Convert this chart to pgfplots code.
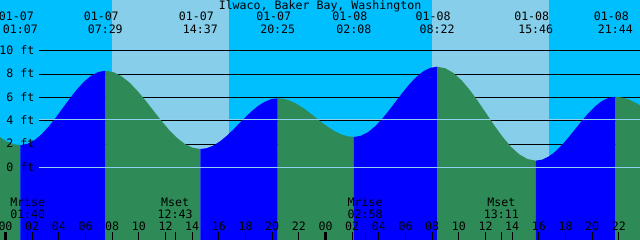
\documentclass[border=0pt]{standalone}
\usepackage{pgfplots}
\pgfplotsset{compat=1.18}
\usepackage{fontspec}
\setmainfont{DejaVu Sans Mono}
\definecolor{night}{HTML}{00BFFF}
\definecolor{day}{HTML}{87CEEB}
\definecolor{rise}{HTML}{0000FF}
\definecolor{fall}{HTML}{2E8B57}
\definecolor{datum}{HTML}{8FD0F0}
\begin{document}
\begin{tikzpicture}[font=\fontsize{11.6bp}{13bp}\selectfont]
\useasboundingbox (0,0) rectangle (640bp,240bp);
\clip (0,0) rectangle (640bp,240bp);
\begin{axis}[at={(0,0)}, anchor=south west, scale only axis, width=640bp, height=240bp,
  xmin=-0.4125, xmax=47.5875, ymin=-6.235, ymax=14.35,
  axis background/.style={fill=night},
  axis line style={draw=none},
  axis on top,
  ytick=\empty,
  xtick={0,2,...,48},
  xticklabels={00,02,04,06,08,10,12,14,16,18,20,22,00,02,04,06,08,10,12,14,16,18,20,22,00},
  xtick pos=left, tick align=inside, major tick length=8.3bp,
  every tick/.style={black, line width=0.8bp},
  extra x ticks={1.667,12.717,26.967,37.183}, extra x tick labels={},
  xticklabel style={anchor=base, yshift=10bp, inner sep=0pt, font=\fontsize{11.6bp}{13bp}\selectfont},
  every node/.append style={inner sep=0pt},
]
% daylight
\addplot[fill=day, draw=none] coordinates {(7.99,-7) (7.99,15) (16.76,15) (16.76,-7)} --cycle;
\addplot[fill=day, draw=none] coordinates {(31.99,-7) (31.99,15) (40.76,15) (40.76,-7)} --cycle;
% depth lines
\addplot[black, line width=0.8bp] coordinates {(2.535,10) (48,10)};
\addplot[black, line width=0.8bp] coordinates {(2.535,8) (48,8)};
\addplot[black, line width=0.8bp] coordinates {(2.535,6) (48,6)};
\addplot[black, line width=0.8bp] coordinates {(2.535,4) (48,4)};
\addplot[black, line width=0.8bp] coordinates {(2.535,2) (48,2)};
\addplot[black, line width=0.8bp] coordinates {(2.535,0) (48,0)};
% water
\addplot[fill=fall, draw=none] coordinates {(-0.488,-6.3) (-0.488,2.647) (0.047,2.242) (0.582,1.987) (1.117,1.900) (1.117,-6.3)} --cycle;
\addplot[fill=rise, draw=none] coordinates {(1.117,-6.3) (1.117,1.900) (1.648,2.008) (2.178,2.328) (2.709,2.834) (3.239,3.495) (3.770,4.264) (4.300,5.090) (4.831,5.916) (5.361,6.685) (5.892,7.346) (6.422,7.853) (6.953,8.172) (7.483,8.280) (7.483,-6.3)} --cycle;
\addplot[fill=fall, draw=none] coordinates {(7.483,-6.3) (7.483,8.280) (8.078,8.166) (8.672,7.830) (9.267,7.298) (9.861,6.602) (10.456,5.793) (11.050,4.925) (11.645,4.057) (12.239,3.247) (12.834,2.552) (13.428,2.020) (14.023,1.684) (14.617,1.570) (14.617,-6.3)} --cycle;
\addplot[fill=rise, draw=none] coordinates {(14.617,-6.3) (14.617,1.570) (15.100,1.644) (15.583,1.861) (16.067,2.207) (16.550,2.658) (17.033,3.182) (17.517,3.745) (18.000,4.308) (18.483,4.833) (18.967,5.283) (19.450,5.629) (19.933,5.846) (20.417,5.920) (20.417,-6.3)} --cycle;
\addplot[fill=fall, draw=none] coordinates {(20.417,-6.3) (20.417,5.920) (20.893,5.864) (21.369,5.698) (21.846,5.434) (22.322,5.090) (22.798,4.690) (23.275,4.260) (23.751,3.830) (24.227,3.430) (24.704,3.086) (25.180,2.822) (25.656,2.656) (26.133,2.600) (26.133,-6.3)} --cycle;
\addplot[fill=rise, draw=none] coordinates {(26.133,-6.3) (26.133,2.600) (26.653,2.703) (27.172,3.004) (27.692,3.483) (28.211,4.108) (28.731,4.835) (29.250,5.615) (29.770,6.395) (30.289,7.123) (30.809,7.747) (31.328,8.226) (31.848,8.527) (32.367,8.630) (32.367,-6.3)} --cycle;
\addplot[fill=fall, draw=none] coordinates {(32.367,-6.3) (32.367,8.630) (32.983,8.493) (33.600,8.090) (34.217,7.450) (34.833,6.615) (35.450,5.643) (36.067,4.600) (36.683,3.557) (37.300,2.585) (37.917,1.750) (38.533,1.110) (39.150,0.707) (39.767,0.570) (39.767,-6.3)} --cycle;
\addplot[fill=rise, draw=none] coordinates {(39.767,-6.3) (39.767,0.570) (40.264,0.663) (40.761,0.937) (41.258,1.372) (41.755,1.940) (42.252,2.601) (42.750,3.310) (43.247,4.019) (43.744,4.680) (44.241,5.248) (44.738,5.683) (45.235,5.957) (45.733,6.050) (45.733,-6.3)} --cycle;
\addplot[fill=fall, draw=none] coordinates {(45.733,-6.3) (45.733,6.050) (46.280,5.981) (46.828,5.779) (47.375,5.457) (47.922,5.038) (47.922,-6.3)} --cycle;
% datum and middle lines
\addplot[datum, line width=0.8bp] coordinates {(2.535,0) (48,0)};
\addplot[datum, line width=0.8bp] coordinates {(2.535,4.1) (48,4.1)};
% midnight ticks
\addplot[black, line width=2.3bp] coordinates {(0,-6.3) (0,-5.52)};
\addplot[black, line width=2.3bp] coordinates {(24,-6.3) (24,-5.52)};
% depth labels
\node[anchor=base east] at (axis cs:2.43,9.67) {10 ft};
\node[anchor=base east] at (axis cs:2.43,7.67) {8 ft};
\node[anchor=base east] at (axis cs:2.43,5.67) {6 ft};
\node[anchor=base east] at (axis cs:2.43,3.67) {4 ft};
\node[anchor=base east] at (axis cs:2.43,1.67) {2 ft};
\node[anchor=base east] at (axis cs:2.43,-0.33) {0 ft};
% title
\node[anchor=base] at (axis cs:23.59,13.55) {Ilwaco, Baker Bay, Washington};
% tide events
\node[anchor=base] at (axis cs:0.817,12.57) {01-07};
\node[anchor=base] at (axis cs:1.117,11.49) {01:07};
\node[anchor=base] at (axis cs:7.183,12.57) {01-07};
\node[anchor=base] at (axis cs:7.483,11.49) {07:29};
\node[anchor=base] at (axis cs:14.317,12.57) {01-07};
\node[anchor=base] at (axis cs:14.617,11.49) {14:37};
\node[anchor=base] at (axis cs:20.117,12.57) {01-07};
\node[anchor=base] at (axis cs:20.417,11.49) {20:25};
\node[anchor=base] at (axis cs:25.833,12.57) {01-08};
\node[anchor=base] at (axis cs:26.133,11.49) {02:08};
\node[anchor=base] at (axis cs:32.067,12.57) {01-08};
\node[anchor=base] at (axis cs:32.367,11.49) {08:22};
\node[anchor=base] at (axis cs:39.467,12.57) {01-08};
\node[anchor=base] at (axis cs:39.767,11.49) {15:46};
\node[anchor=base] at (axis cs:45.433,12.57) {01-08};
\node[anchor=base] at (axis cs:45.733,11.49) {21:44};
% moon events
\node[anchor=base] at (axis cs:1.667,-3.32) {Mrise};
\node[anchor=base] at (axis cs:1.667,-4.37) {01:40};
\node[anchor=base] at (axis cs:12.717,-3.32) {Mset};
\node[anchor=base] at (axis cs:12.717,-4.37) {12:43};
\node[anchor=base] at (axis cs:26.967,-3.32) {Mrise};
\node[anchor=base] at (axis cs:26.967,-4.37) {02:58};
\node[anchor=base] at (axis cs:37.183,-3.32) {Mset};
\node[anchor=base] at (axis cs:37.183,-4.37) {13:11};
\end{axis}
\end{tikzpicture}
\end{document}
